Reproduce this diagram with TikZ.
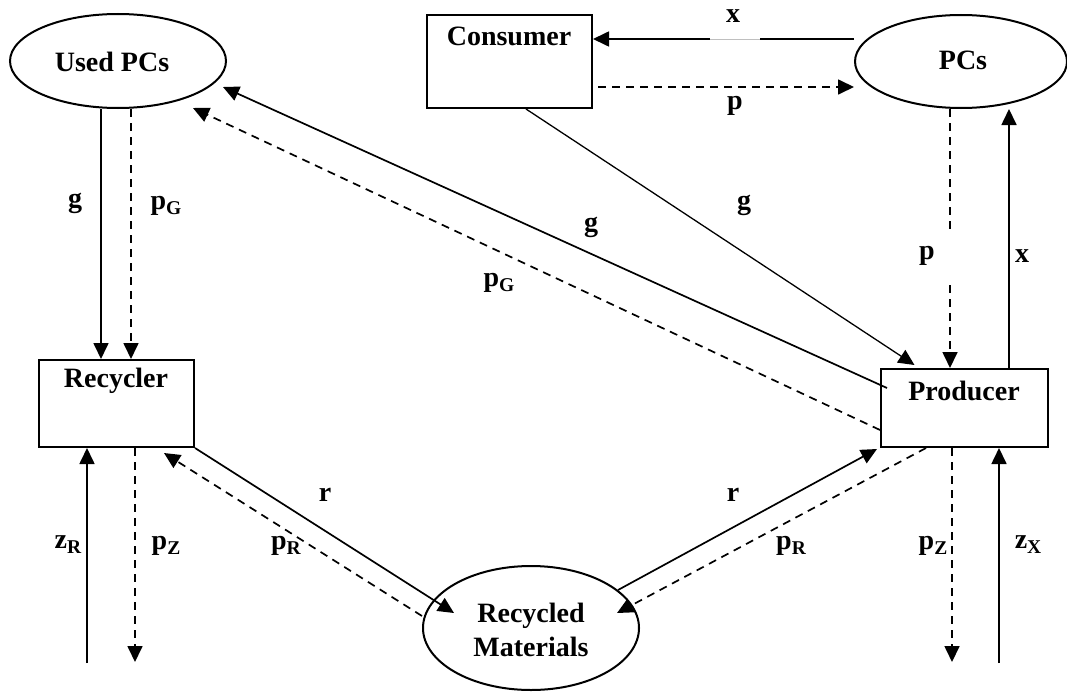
\documentclass[tikz,border=0pt]{standalone}
\usepackage{fontspec}
\setmainfont{Liberation Serif}
\usetikzlibrary{arrows.meta,shapes.geometric}
\newcommand\lsub[1]{\raisebox{-5pt}{\fontsize{19.5}{19.5}\selectfont #1}}
\tikzset{
  every node/.style={font=\fontsize{28}{34}\selectfont\bfseries},
  boxnode/.style={draw,line width=2pt,rectangle,inner sep=0pt},
  ellnode/.style={draw,line width=2pt,ellipse,inner sep=0pt,align=center},
  lbl/.style={inner sep=0pt},
  arr/.style={line width=1.7pt,-{Triangle[length=16pt,width=15pt]}},
  darr/.style={arr,dash pattern=on 8pt off 6pt},
  dline/.style={line width=1.7pt,dash pattern=on 8pt off 6pt},
}
\begin{document}
\begin{tikzpicture}[x=1pt,y=-1pt]
\useasboundingbox (0,0) rectangle (1067,693);
% nodes
\node[ellnode,minimum width=216pt,minimum height=94pt] (usedpcs) at (118,61) {};
\node[lbl] (usedpcst) at (112,62) {Used PCs};
\node[ellnode,minimum width=212pt,minimum height=93pt] (pcs) at (961,61.5) {};
\node[lbl] (pcst) at (963,60) {PCs};
\node[boxnode,minimum width=165pt,minimum height=93pt] (consumer) at (509.5,61.5) {};
\node[lbl] (consumert) at (509,36) {Consumer};
\node[boxnode,minimum width=155pt,minimum height=87pt] (recycler) at (116.5,403.5) {};
\node[lbl] (recyclert) at (116,381) {Recycler};
\node[boxnode,minimum width=167pt,minimum height=78pt] (producer) at (964.5,408) {};
\node[lbl] (producert) at (964,391) {Producer};
\node[ellnode,minimum width=216pt,minimum height=124pt] (rm) at (531,628) {};
\node[lbl,align=center] (rmt) at (531,630) {Recycled\\Materials};
% free ends
\coordinate (zrin) at (87,663);
\coordinate (pzrout) at (135,662);
\coordinate (zxin) at (999,663);
\coordinate (pzxout) at (952,662);
\coordinate (pgapa) at (950,230);
\coordinate (pgapb) at (950,285);
% top connectors
\draw[arr] ([yshift=22.5pt]pcs.west) -- ([yshift=22.5pt]consumer.east);
\fill[white] (710,35) rectangle (760,43);
\draw[gray!50,line width=0.6pt] (710,39) -- (760,39);
\draw[darr] ([xshift=5pt,yshift=-25.5pt]consumer.east) -- ([yshift=-25.5pt]pcs.west);
\draw[arr,line width=1.3pt] ([xshift=16.5pt]consumer.south) -- ([xshift=-50pt,yshift=3pt]producer.north);
\draw[arr] ([xshift=7pt,yshift=20pt]producer.west) -- ([xshift=105pt,yshift=-26pt]usedpcs.center);
\draw[darr] ([yshift=-22pt]producer.west) -- ([xshift=75pt,yshift=-47pt]usedpcs.center);
% used pcs to recycler
\draw[arr] ([xshift=-17pt]usedpcs.south) -- ([xshift=-17pt]usedpcs.south |- recycler.north);
\draw[darr] ([xshift=13pt]usedpcs.south) -- ([xshift=13pt]usedpcs.south |- recycler.north);
% pcs and producer
\draw[arr] ([xshift=44.5pt]producer.north) -- ([xshift=44.5pt]producer.north |- pcs.south);
\draw[dline] ([xshift=-11pt]pcs.south) -- (pgapa);
\draw[darr] (pgapb) -- (pgapb |- producer.north);
% recycler bottom
\draw[arr] (zrin) -- (zrin |- recycler.south);
\draw[darr] (pzrout |- recycler.south) -- (pzrout);
% producer bottom
\draw[arr] (zxin) -- (zxin |- producer.south);
\draw[darr] (pzxout |- producer.south) -- (pzxout);
% recycled materials
\draw[arr] (recycler.south east) -- ([xshift=-77pt,yshift=15pt]rm.center);
\draw[darr] ([yshift=12pt]rm.west) -- ([xshift=-31pt,yshift=-5pt]recycler.south east);
\draw[arr] ([xshift=87pt,yshift=38pt]rm.center) -- ([xshift=-3pt,yshift=-1pt]producer.south west);
\draw[darr] ([xshift=46pt]producer.south west) -- ([xshift=86pt,yshift=15pt]rm.center);
% labels
\node[lbl] (lx1) at (733,16) {x};
\node[lbl] (lp1) at (735,106) {p};
\node[lbl] (lg1) at (744,205) {g};
\node[lbl] (lg2) at (591,227) {g};
\node[lbl] (lpg2) at (499,283) {p\lsub{G}};
\node[lbl] (lg3) at (75,203) {g};
\node[lbl] (lpg3) at (166,206) {p\lsub{G}};
\node[lbl] (lp2) at (927,256) {p};
\node[lbl] (lx2) at (1022,256) {x};
\node[lbl] (lr1) at (325,495) {r};
\node[lbl] (lr2) at (733,495) {r};
\node[lbl] (lzr) at (68,545) {z\lsub{R}};
\node[lbl] (lpzr) at (166,546) {p\lsub{Z}};
\node[lbl] (lprr) at (286,546) {p\lsub{R}};
\node[lbl] (lprx) at (791,546) {p\lsub{R}};
\node[lbl] (lpzx) at (933,546) {p\lsub{Z}};
\node[lbl] (lzx) at (1028,545) {z\lsub{X}};
\end{tikzpicture}
\end{document}
